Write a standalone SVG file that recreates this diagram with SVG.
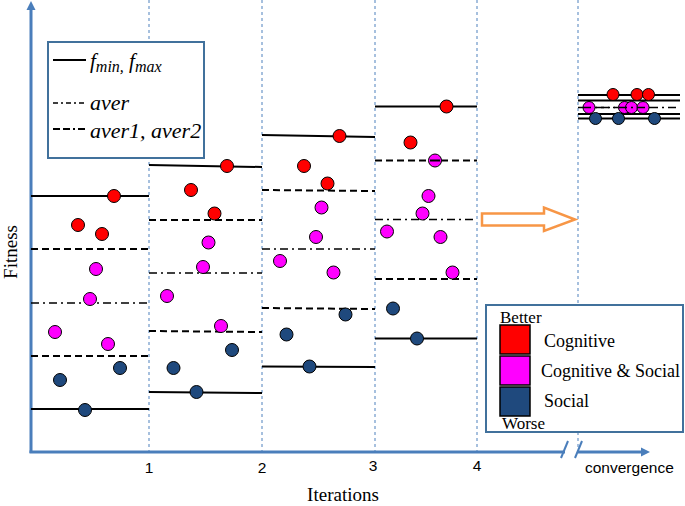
<svg xmlns="http://www.w3.org/2000/svg" width="685" height="506" viewBox="0 0 685 506">
<style>
.grid{stroke:#4f81bd;stroke-width:1;stroke-dasharray:3,3;fill:none}
.ax{stroke:#4a7ebb;stroke-width:3;fill:none}
.s{stroke:#000;stroke-width:2;fill:none}
.d{stroke:#000;stroke-width:2;stroke-dasharray:7,4;fill:none}
.dd{stroke:#000;stroke-width:1.6;stroke-dasharray:8,4,2,4;fill:none}
.r{fill:#ff0000;stroke:#000;stroke-width:1}
.m{fill:#ff00ff;stroke:#000;stroke-width:1}
.b{fill:#1f497d;stroke:#000;stroke-width:1}
.box{fill:#fff;stroke:#41719c;stroke-width:2}
.serif{font-family:"Liberation Serif","Times New Roman",serif;fill:#000}
.it{font-style:italic}
.sans{font-family:"Liberation Sans",Arial,sans-serif;fill:#000;font-size:15.5px}
</style>
<rect width="685" height="506" fill="#fff"/>
<g id="grid">
<line class="grid" x1="149" y1="0" x2="149" y2="451"/>
<line class="grid" x1="262" y1="0" x2="262" y2="451"/>
<line class="grid" x1="375" y1="0" x2="375" y2="451"/>
<line class="grid" x1="477" y1="0" x2="477" y2="451"/>
<line class="grid" x1="578" y1="0" x2="578" y2="451"/>
</g>
<g id="axes">
<line class="ax" x1="31" y1="453" x2="31" y2="8"/>
<polygon points="31,1 26.5,10 35.5,10" fill="#4a7ebb"/>
<line class="ax" x1="29.5" y1="452" x2="565" y2="452"/>
<line class="ax" x1="578" y1="452" x2="642" y2="452"/>
<polygon points="650,452 641,447.5 641,456.5" fill="#4a7ebb"/>
<line stroke="#4a7ebb" stroke-width="2" x1="561" y1="458" x2="568" y2="441"/>
<line stroke="#4a7ebb" stroke-width="2" x1="575" y1="458" x2="582" y2="441"/>
</g>
<g id="col1">
<line class="s" x1="31" y1="196" x2="149" y2="196"/>
<line class="d" x1="31" y1="249" x2="149" y2="249"/>
<line class="dd" x1="31" y1="303" x2="149" y2="303"/>
<line class="d" x1="31" y1="356" x2="149" y2="356"/>
<line class="s" x1="31" y1="409" x2="149" y2="409"/>
<circle class="r" cx="114" cy="196" r="6.5"/>
<circle class="r" cx="78" cy="225" r="6.5"/>
<circle class="r" cx="102" cy="234" r="6.5"/>
<circle class="m" cx="96" cy="269" r="6.5"/>
<circle class="m" cx="90" cy="299" r="6.5"/>
<circle class="m" cx="55" cy="332" r="6.5"/>
<circle class="m" cx="108" cy="344" r="6.5"/>
<circle class="b" cx="120" cy="368" r="6.5"/>
<circle class="b" cx="60" cy="380" r="6.5"/>
<circle class="b" cx="85" cy="410" r="6.5"/>
</g>
<g id="col2">
<line class="s" x1="149" y1="165" x2="262" y2="167"/>
<line class="d" x1="149" y1="220" x2="262" y2="220"/>
<line class="dd" x1="149" y1="273" x2="262" y2="273"/>
<line class="d" x1="149" y1="331" x2="262" y2="332"/>
<line class="s" x1="149" y1="392" x2="262" y2="393"/>
<circle class="r" cx="227" cy="166" r="6.5"/>
<circle class="r" cx="191" cy="190" r="6.5"/>
<circle class="r" cx="214.5" cy="213.5" r="6.5"/>
<circle class="m" cx="208.5" cy="242.5" r="6.5"/>
<circle class="m" cx="203" cy="267" r="6.5"/>
<circle class="m" cx="167" cy="296" r="6.5"/>
<circle class="m" cx="221" cy="326" r="6.5"/>
<circle class="b" cx="232" cy="350" r="6.5"/>
<circle class="b" cx="173.5" cy="368" r="6.5"/>
<circle class="b" cx="196.5" cy="392" r="6.5"/>
</g>
<g id="col3">
<line class="s" x1="262" y1="135" x2="375" y2="137"/>
<line class="d" x1="262" y1="190" x2="375" y2="191"/>
<line class="dd" x1="262" y1="249" x2="375" y2="249"/>
<line class="d" x1="262" y1="308" x2="375" y2="309"/>
<line class="s" x1="262" y1="366.5" x2="375" y2="367"/>
<circle class="r" cx="339.5" cy="136" r="6.5"/>
<circle class="r" cx="304" cy="166" r="6.5"/>
<circle class="r" cx="327.5" cy="183.5" r="6.5"/>
<circle class="m" cx="321.5" cy="207.5" r="6.5"/>
<circle class="m" cx="316" cy="237" r="6.5"/>
<circle class="m" cx="280" cy="261" r="6.5"/>
<circle class="m" cx="333.5" cy="272.5" r="6.5"/>
<circle class="b" cx="345.5" cy="314.5" r="6.5"/>
<circle class="b" cx="286.5" cy="334.5" r="6.5"/>
<circle class="b" cx="309.5" cy="366.5" r="6.5"/>
</g>
<g id="col4">
<line class="s" x1="375" y1="106.5" x2="477" y2="106.5"/>
<line class="d" x1="375" y1="160.5" x2="477" y2="160.5"/>
<line class="dd" x1="375" y1="219.5" x2="477" y2="219.5"/>
<line class="d" x1="375" y1="279" x2="477" y2="279"/>
<line class="s" x1="375" y1="338.5" x2="477" y2="338.5"/>
<circle class="r" cx="446.5" cy="106.5" r="6.5"/>
<circle class="r" cx="410.5" cy="142.5" r="6.5"/>
<circle class="m" cx="435" cy="160.5" r="6.5"/>
<line class="s" x1="430" y1="160.5" x2="440" y2="160.5"/>
<circle class="m" cx="428.5" cy="196" r="6.5"/>
<circle class="m" cx="422.5" cy="213.5" r="6.5"/>
<circle class="m" cx="387" cy="231.5" r="6.5"/>
<circle class="m" cx="440.5" cy="237" r="6.5"/>
<circle class="m" cx="452.5" cy="272.5" r="6.5"/>
<circle class="b" cx="393" cy="308.5" r="6.5"/>
<circle class="b" cx="417" cy="338.5" r="6.5"/>
</g>
<g id="convergence-col">
<line class="s" x1="578" y1="95" x2="680" y2="95"/>
<line class="s" x1="578" y1="100.5" x2="680" y2="100.5"/>
<line class="dd" x1="578" y1="107.5" x2="680" y2="107.5"/>
<line class="s" x1="578" y1="114" x2="680" y2="114"/>
<line class="s" x1="578" y1="118.5" x2="680" y2="118.5"/>
<circle class="r" cx="613" cy="94.5" r="6"/>
<circle class="r" cx="637" cy="94.5" r="6"/>
<circle class="r" cx="648.5" cy="94.5" r="6"/>
<circle class="m" cx="589" cy="107.5" r="6"/>
<circle class="m" cx="624.5" cy="107.5" r="6"/>
<circle class="m" cx="631.5" cy="107.5" r="6"/>
<circle class="m" cx="643" cy="107.5" r="6"/>
<line class="dd" x1="583" y1="107.5" x2="650" y2="107.5"/>
<circle class="b" cx="595.5" cy="118.5" r="6"/>
<circle class="b" cx="618.5" cy="118.5" r="6"/>
<circle class="b" cx="654.5" cy="118.5" r="6"/>
</g>
<g id="arrow">
<polygon points="482,213.5 544,213.5 544,207.5 575,219.5 544,231 544,225.5 482,225.5" fill="#fff" stroke="#f79646" stroke-width="2.5" stroke-linejoin="miter"/>
</g>
<g id="legend-lines">
<rect class="box" x="48" y="42" width="156" height="116"/>
<line class="s" x1="53" y1="60" x2="86" y2="60"/>
<line stroke="#000" stroke-width="1.6" stroke-dasharray="5,3,2,3" x1="53" y1="103" x2="86" y2="103"/>
<line stroke="#000" stroke-width="2" stroke-dasharray="7,3,7,3,2,3" x1="53" y1="129" x2="86" y2="129"/>
<text class="serif it" x="90" y="68" font-size="21">f<tspan font-size="16" dy="4">min</tspan><tspan font-size="16">,</tspan><tspan dy="-4"> f</tspan><tspan font-size="16" dy="4">max</tspan></text>
<text class="serif it" x="90" y="110" font-size="22">aver</text>
<text class="serif it" x="90" y="138" font-size="22">aver1, aver2</text>
</g>
<g id="legend-groups">
<rect class="box" x="486" y="305" width="197" height="127"/>
<text class="serif" x="500" y="323" font-size="17">Better</text>
<rect x="500" y="325" width="30" height="29" fill="#ff0000" stroke="#000" stroke-width="1.5"/>
<rect x="500" y="356" width="30" height="29" fill="#ff00ff" stroke="#000" stroke-width="1.5"/>
<rect x="500" y="387" width="30" height="29" fill="#1f497d" stroke="#000" stroke-width="1.5"/>
<text class="serif" x="544" y="347" font-size="18">Cognitive</text>
<text class="serif" x="541" y="377" font-size="18">Cognitive &amp; Social</text>
<text class="serif" x="544" y="407" font-size="18">Social</text>
<text class="serif" x="502" y="429" font-size="17">Worse</text>
</g>
<g id="labels">
<text class="sans" x="149" y="473" text-anchor="middle">1</text>
<text class="sans" x="262" y="473" text-anchor="middle">2</text>
<text class="sans" x="373" y="471" text-anchor="middle">3</text>
<text class="sans" x="477" y="471" text-anchor="middle">4</text>
<text class="sans" x="585" y="473">convergence</text>
<text class="serif" x="343" y="501" font-size="19" text-anchor="middle">Iterations</text>
<text class="serif" font-size="19" text-anchor="middle" transform="translate(17,252) rotate(-90)">Fitness</text>
</g>
</svg>
